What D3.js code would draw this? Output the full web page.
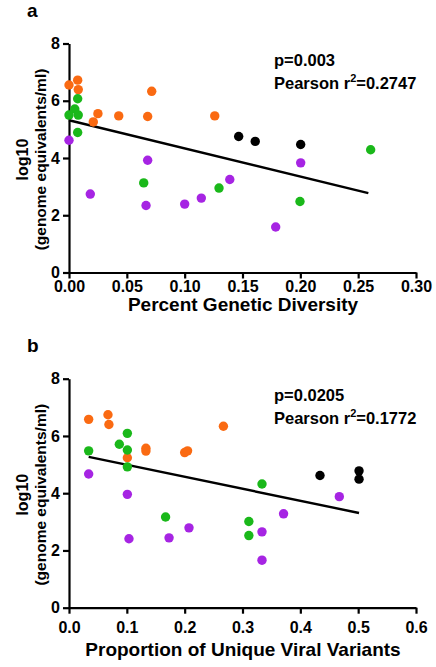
<!DOCTYPE html>
<html><head><meta charset="utf-8">
<script src="https://cdn.jsdelivr.net/npm/d3@7"></script>
<style>body{margin:0;background:#fff}svg{display:block}text{font-family:Arial,"Liberation Sans",sans-serif;font-weight:bold}</style>
</head><body><svg id="c" width="436" height="667"></svg>
<script>
// Panel a: Percent Genetic Diversity vs log10 viral load
const colors = {orange:"#fa6a12", green:"#1ab81a", black:"#000000", purple:"#a624e3"};

const aOrangeX = [0.000,0.0075,0.008,0.025,0.021,0.043,0.068,0.0715,0.126];
const aOrangeY = [6.55,6.72,6.39,5.55,5.26,5.47,5.45,6.33,5.47];
const aGreenX  = [0.0075,0.005,0.000,0.008,0.0075,0.0646,0.1297,0.1997,0.2608];
const aGreenY  = [6.07,5.71,5.50,5.50,4.89,3.13,2.95,2.48,4.29];
const aBlackX  = [0.1467,0.161,0.2003];
const aBlackY  = [4.75,4.58,4.47];
const aPurpleX = [0.000,0.0184,0.068,0.0666,0.100,0.1144,0.139,0.1787,0.2003];
const aPurpleY = [4.62,2.74,3.92,2.34,2.39,2.60,3.25,1.59,3.83];
const aFitX = [0.0,0.2588];
const aFitY = [5.32,2.77];

// Panel b: Proportion of Unique Viral Variants
const bOrangeX = [0.034,0.0674,0.069,0.133,0.133,0.200,0.205,0.1009,0.267];
const bOrangeY = [6.58,6.74,6.40,5.57,5.47,5.42,5.48,5.24,6.34];
const bGreenX  = [0.1009,0.087,0.034,0.1009,0.1009,0.3337,0.167,0.311,0.311];
const bGreenY  = [6.09,5.71,5.48,5.51,4.92,4.32,3.17,3.01,2.52];
const bBlackX  = [0.434,0.5015,0.5015];
const bBlackY  = [4.62,4.78,4.49];
const bPurpleX = [0.034,0.1009,0.4674,0.371,0.3337,0.2075,0.173,0.1037,0.3337];
const bPurpleY = [4.67,3.96,3.88,3.28,2.65,2.79,2.44,2.41,1.66];
const bFitX = [0.034,0.5015];
const bFitY = [5.27,3.31];

const yTicks = [0,2,4,6,8];
const aXTicks = [0,0.05,0.10,0.15,0.20,0.25,0.30];
const bXTicks = [0,0.1,0.2,0.3,0.4,0.5,0.6];

const svg = d3.select("#c");

function panel(opt){
  const g = svg.append("g");
  const x = d3.scaleLinear().domain(opt.xDomain).range([69,416]);
  const y = d3.scaleLinear().domain([0,8]).range([opt.y0, opt.y0-229]);
  const ya = d3.axisLeft(y).tickValues(yTicks).tickFormat(d3.format("d")).tickSize(6).tickSizeOuter(0);
  const xa = d3.axisBottom(x).tickValues(opt.xTicks).tickFormat(d3.format(opt.fmt)).tickSize(6).tickSizeOuter(0);
  const gy = g.append("g").attr("transform","translate(69,0)").call(ya);
  const gx = g.append("g").attr("transform",`translate(0,${opt.y0})`).call(xa);
  [gy,gx].forEach(a=>{
    a.select(".domain").attr("stroke","#000").attr("stroke-width",2.2);
    a.selectAll(".tick line").attr("stroke","#000").attr("stroke-width",2.2);
    a.selectAll(".tick text").attr("fill","#000").style("font-size","16px").style("font-family","Arial, 'Liberation Sans', sans-serif").style("font-weight","bold");
  });
  gy.selectAll(".tick text").attr("x",-9);
  gx.selectAll(".tick text").attr("y",opt.tickY).attr("dy","0.35em");
  g.append("line")
    .attr("x1",x(opt.fitX[0])).attr("y1",y(opt.fitY[0]))
    .attr("x2",x(opt.fitX[1])).attr("y2",y(opt.fitY[1]))
    .attr("stroke","#000").attr("stroke-width",2.4);
  opt.series.forEach(s=>{
    g.selectAll(null).data(s.xs.map((v,i)=>[v,s.ys[i]])).enter().append("circle")
      .attr("cx",d=>x(d[0])).attr("cy",d=>y(d[1])).attr("r",4.7)
      .attr("fill",colors[s.key]);
  });
  const cy = opt.y0-113;
  g.append("text").attr("x",22).attr("y",cy).attr("transform",`rotate(-90,22,${cy})`)
    .attr("text-anchor","middle").attr("dy","0.35em").style("font-size","16px").text("log10");
  g.append("text").attr("x",41).attr("y",cy).attr("transform",`rotate(-90,41,${cy})`)
    .attr("text-anchor","middle").attr("dy","0.35em").style("font-size","15.5px").text("(genome equivalents/ml)");
  g.append("text").attr("x",243).attr("y",opt.y0+opt.titleY).attr("text-anchor","middle").style("font-size","19px").text(opt.xLabel);
  g.append("text").attr("x",27).attr("y",opt.y0-256).style("font-size","19px").text(opt.letter);
  g.append("text").attr("x",274).attr("y",opt.y0-207).style("font-size","16.5px").text(opt.p);
  const t = g.append("text").attr("x",274).attr("y",opt.y0-184).style("font-size","16.5px");
  t.append("tspan").text("Pearson r");
  t.append("tspan").attr("dy",-7).style("font-size","11px").text("2");
  t.append("tspan").attr("dy",7).text("=" + opt.r2);
}

panel({y0:272.5, xDomain:[0,0.30], xTicks:aXTicks, fmt:".2f", letter:"a", tickY:14, titleY:38,
  xLabel:"Percent Genetic Diversity", p:"p=0.003", r2:"0.2747",
  fitX:aFitX, fitY:aFitY,
  series:[{key:"orange",xs:aOrangeX,ys:aOrangeY},{key:"green",xs:aGreenX,ys:aGreenY},
          {key:"black",xs:aBlackX,ys:aBlackY},{key:"purple",xs:aPurpleX,ys:aPurpleY}]});
panel({y0:607.7, xDomain:[0,0.6], xTicks:bXTicks, fmt:".1f", letter:"b", tickY:20, titleY:48,
  xLabel:"Proportion of Unique Viral Variants", p:"p=0.0205", r2:"0.1772",
  fitX:bFitX, fitY:bFitY,
  series:[{key:"orange",xs:bOrangeX,ys:bOrangeY},{key:"green",xs:bGreenX,ys:bGreenY},
          {key:"black",xs:bBlackX,ys:bBlackY},{key:"purple",xs:bPurpleX,ys:bPurpleY}]});
</script></body></html>
